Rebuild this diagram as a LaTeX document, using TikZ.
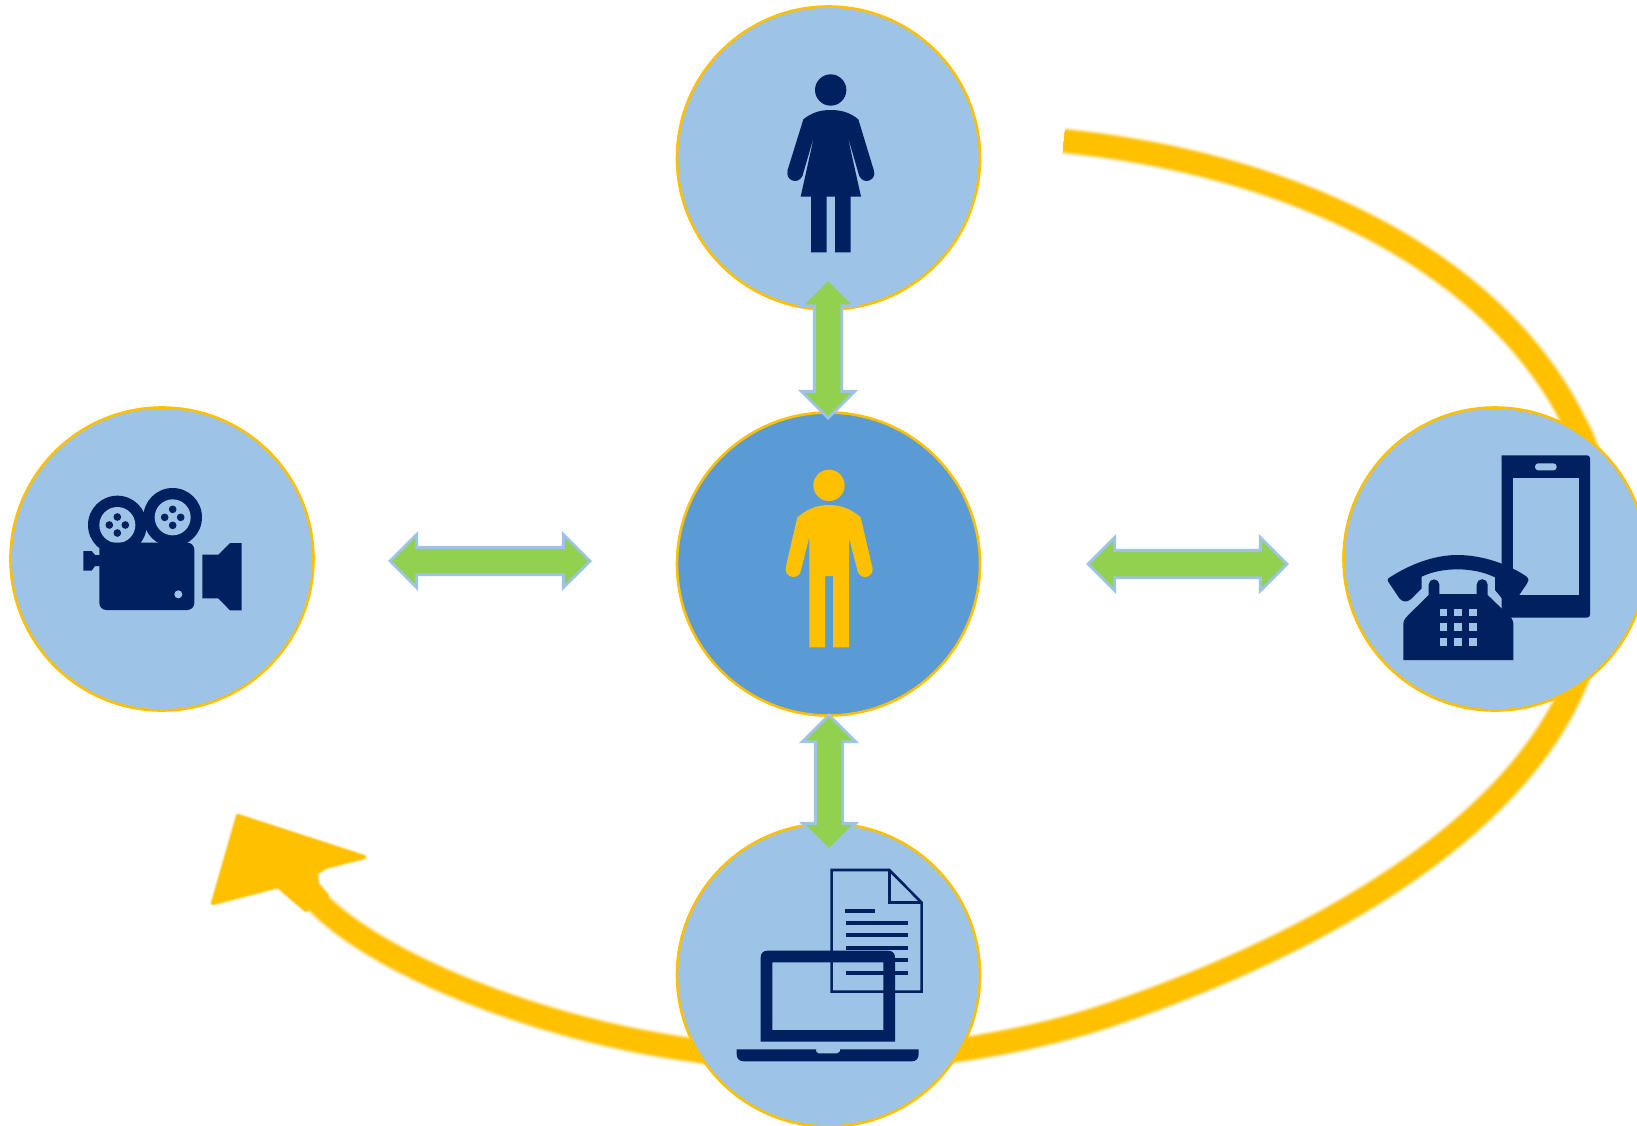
\documentclass[tikz,border=0pt]{standalone}
\usetikzlibrary{shapes.arrows}
\definecolor{ringorange}{HTML}{FFC000}
\definecolor{paleblue}{HTML}{9DC3E6}
\definecolor{midblue}{HTML}{5B9BD5}
\definecolor{navyicon}{HTML}{002060}
\definecolor{arrowgreen}{HTML}{92D050}
\tikzset{
  disc/.style={circle,draw=ringorange,line width=2.6pt,fill=paleblue,minimum size=303pt,inner sep=0pt,outer sep=0pt},
  centerdisc/.style={disc,fill=midblue},
  dblarrow/.style={double arrow,draw=paleblue,line width=2.8pt,fill=arrowgreen,
    text height=24.5pt,text depth=0pt,text width=0pt,
    double arrow head extend=13pt,double arrow head indent=0pt,double arrow tip angle=90,
    inner sep=0pt,outer sep=0pt,miter limit=10},
  zoomA/.style={shift={(60,470)},x=.33333pt,y=-.33333pt},
  zoomB/.style={shift={(1370,440)},x=.33333pt,y=-.33333pt},
  zoomC/.style={shift={(720,860)},x=.33333pt,y=-.33333pt},
  zoomD/.style={shift={(770,60)},x=.33333pt,y=-.33333pt},
  zoomE/.style={shift={(770,460)},x=.33333pt,y=-.33333pt},
  icon/.style={fill=navyicon,draw=none},
  hole/.style={fill=paleblue,draw=none}
}
\begin{document}
\begin{tikzpicture}[x=1pt,y=-1pt]
\clip (0,0) rectangle (1637,1125);
\fill[white] (0,0) rectangle (1637,1125);
% soft-edged orange loop
\foreach \w/\p in {29/4,28/10,27/18,26/28,25/40,24/53,23/66,22/77,21/86,20/92,19/96,18/99,17/100}{
  \pgfmathsetmacro\hw{(\w-17)*.6}
  \draw[draw=ringorange!\p!white,line width=\w pt]
    (1064,141) .. controls (1300,165) and (1495,265) .. (1573,420)
    .. controls (1618,500) and (1613,622) .. (1558,717)
    .. controls (1473,865) and (1261,965) .. (1100,1018)
    .. controls (1000,1050) and (840,1075) .. (693,1050)
    .. controls (540,1030) and (360,960) .. (305,888);
  \draw[draw=ringorange!\p!white,fill=ringorange!\p!white,line width=\hw pt,line join=round]
    (238,816) -- (364,857) -- (325,867) -- (316,873) -- (317,884) -- (327,896) -- (306,910) -- (285,892) -- (278,886) -- (213,903) -- cycle;
}
% discs
\node[disc] (woman) at (828.5,158) {};
\node[centerdisc] (person) at (828.5,564) {};
\node[disc] (film) at (162,559) {};
\node[disc] (phones) at (1495,559) {};
\node[disc] (docs) at (828.5,975) {};
% double arrows
\node[dblarrow,rotate=90,minimum height=139pt] (linkTop) at (828,348.5) {};
\node[dblarrow,rotate=90,minimum height=135pt] (linkBottom) at (829,782.5) {};
\node[dblarrow,minimum height=200pt] (linkLeft) at (490,561) {};
\node[dblarrow,minimum height=199pt] (linkRight) at (1187.5,564) {};
% film camera
\begin{scope}[zoomA]
  \fill[icon] (172,165) circle (88);
  \fill[icon] (338,142) circle (88);
  \fill[hole] (172,165) circle (54);
  \fill[hole] (338,142) circle (54);
  \foreach \cx/\cy in {172/165,338/142}{
    \fill[icon] (\cx,\cy-24) circle (11.5);
    \fill[icon] (\cx,\cy+24) circle (11.5);
    \fill[icon] (\cx-24,\cy) circle (11.5);
    \fill[icon] (\cx+24,\cy) circle (11.5);
  }
  \fill[icon,rounded corners=7pt] (118,218) rectangle (403,420);
  \fill[icon] (70,243) -- (95,243) -- (105,255) -- (120,255) -- (120,288) -- (105,288) -- (95,302) -- (70,302) -- cycle;
  \fill[icon] (427,254) -- (475,254) -- (510,219) -- (545,219) -- (545,421) -- (510,421) -- (475,385) -- (427,385) -- cycle;
  \fill[hole] (355,373) circle (12);
\end{scope}
% mobile phone and desk telephone
\begin{scope}[zoomB]
  \fill[icon,rounded corners=3pt] (395,46) -- (660,46) -- (660,533) -- (420,533);
  \fill[icon] (395,50) -- (420,50) -- (420,533) -- (395,510) -- cycle;
  \fill[hole] (428,113) rectangle (627,466);
  \fill[hole,rounded corners=3.2pt] (495,70) rectangle (560,91);
  \fill[icon] (55,415) .. controls (115,375) and (190,345) .. (262,345) .. controls (340,345) and (420,375) .. (470,410)
     .. controls (478,418) and (476,425) .. (470,432) -- (447,466) -- (425,482) .. controls (415,488) and (405,485) .. (398,478)
     -- (375,450) -- (375,412) .. controls (340,395) and (300,388) .. (262,388) .. controls (225,388) and (185,395) .. (155,410)
     -- (155,445) -- (122,478) .. controls (110,488) and (98,486) .. (88,475) -- (58,430) .. controls (52,422) and (52,418) .. (55,415) -- cycle;
  \fill[icon] (100,660) -- (430,660) -- (430,550) .. controls (428,535) and (420,530) .. (415,525) -- (353,465) -- (353,434)
     arc[start angle=0,end angle=-180,radius=16.5] -- (320,462) -- (208,462) -- (208,434)
     arc[start angle=0,end angle=-180,radius=16] -- (176,465) -- (115,525) .. controls (108,532) and (100,540) .. (100,552) -- cycle;
  \foreach \bx in {209,253,297}{\foreach \by in {506,550,594}{
    \fill[hole] (\bx,\by) rectangle (\bx+23,\by+23);
  }}
\end{scope}
% document and laptop
\begin{scope}[zoomC]
  \draw[navyicon,line width=2.6pt,line join=miter] (335,30) -- (508,30) -- (605,128) -- (605,395) -- (335,395) -- cycle;
  \draw[navyicon,line width=2.6pt] (508,30) -- (508,128) -- (605,128);
  \draw[navyicon,line width=3.6pt] (375,153) -- (465,153);
  \foreach \ly in {189,225,264,300,339}{\draw[navyicon,line width=3.6pt] (378,\ly) -- (564,\ly);}
  \fill[icon,even odd rule] (122,545) -- (122,292) .. controls (122,280) and (130,272) .. (142,272) -- (505,272)
     .. controls (517,272) and (525,280) .. (525,292) -- (525,545) -- cycle
     (157,307) rectangle (490,510);
  \fill[icon] (50,568) -- (288,568) -- (288,574) -- (295,580) -- (352,580) -- (360,574) -- (360,568) -- (596,568) -- (596,582)
     .. controls (596,596) and (588,604) .. (575,604) -- (72,604) .. controls (58,604) and (50,596) .. (50,582) -- cycle;
\end{scope}
% woman
\begin{scope}[zoomD]
  \fill[icon] (182,90) circle (47);
  \fill[icon] (100,178) .. controls (125,158) and (150,150) .. (182,150) .. controls (215,150) and (240,158) .. (265,178)
    -- (312,333) -- (268,349) -- (232,225) -- (273,410) -- (242,410) -- (242,577) -- (195,577) -- (195,410) -- (170,410)
    -- (170,577) -- (123,577) -- (123,410) -- (92,410) -- (133,225) -- (97,349) -- (52,333) -- cycle;
  \fill[icon] (290,340) circle (23);
  \fill[icon] (75,340) circle (23);
\end{scope}
% man
\begin{scope}[zoomE]
  \fill[ringorange] (177,76) circle (47);
  \fill[ringorange] (82,172) .. controls (110,148) and (140,135) .. (177,135) .. controls (215,135) and (245,148) .. (272,172)
    -- (307,322) -- (263,334) -- (237,232) -- (237,562) -- (189,562) -- (189,348) -- (165,348) -- (165,562) -- (118,562)
    -- (118,232) -- (92,334) -- (47,322) -- cycle;
  \fill[ringorange] (285,328) circle (23);
  \fill[ringorange] (70,328) circle (23);
\end{scope}
\end{tikzpicture}
\end{document}
